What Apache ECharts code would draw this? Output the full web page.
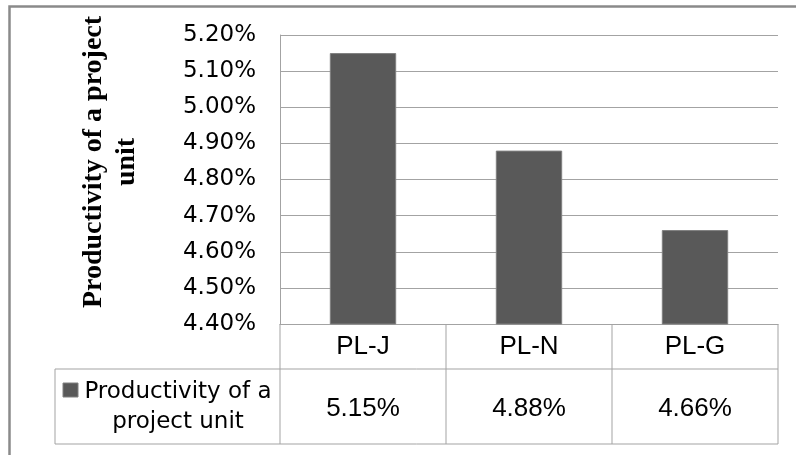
<!DOCTYPE html>
<html>
<head>
<meta charset="utf-8">
<script src="https://cdn.jsdelivr.net/npm/echarts@6/dist/echarts.min.js"></script>
<style>
  html, body { margin: 0; padding: 0; background: #ffffff; }
  #chart { width: 796px; height: 455px; }
</style>
</head>
<body>
<div id="chart"></div>
<script>
// Data
const categories = ['PL-J', 'PL-N', 'PL-G'];
const productivity = [5.15, 4.88, 4.66];
const seriesName = 'Productivity of a\nproject unit';
const axisTitle = 'Productivity of a project\nunit';
const yMin = 4.4;
const yMax = 5.2;
const yStep = 0.1;

// Layout and styling
const W = 796, H = 455;
const GRID = { left: 280, right: 18, top: 35, bottom: 131 };
const LINE = '#a3a3a3';
const BAR = '#595959';
const ROW1_H = 45;   // category row of the data table
const ROW2_H = 75;   // value row of the data table
const LEGEND_LEFT = 55;
const fmt = v => v.toFixed(2) + '%';

const chart = echarts.init(document.getElementById('chart'), null, { renderer: 'canvas' });

chart.setOption({
  animation: false,
  grid: { left: GRID.left, right: GRID.right, top: GRID.top, bottom: GRID.bottom },
  xAxis: {
    type: 'category',
    data: categories,
    axisLine: { lineStyle: { color: LINE, width: 1 } },
    axisTick: { show: false },
    axisLabel: { fontFamily: 'Liberation Sans', fontSize: 26, color: '#000', margin: 10 }
  },
  yAxis: {
    type: 'value',
    min: yMin,
    max: yMax,
    interval: yStep,
    axisLine: { show: true, lineStyle: { color: LINE, width: 1 } },
    axisTick: { show: false },
    axisLabel: { formatter: fmt, fontFamily: 'DejaVu Sans', fontSize: 23, color: '#000', margin: 24 },
    splitLine: { lineStyle: { color: LINE, width: 1 } }
  },
  series: [{
    type: 'bar',
    name: seriesName,
    data: productivity,
    barWidth: '40%',
    itemStyle: { color: BAR, borderColor: '#808080', borderWidth: 1 }
  }]
});

// Data table under the plot, aligned to the category bands
const xLeft = GRID.left;
const xRight = W - GRID.right;
const band = (xRight - xLeft) / categories.length;
const yBase = chart.convertToPixel({ yAxisIndex: 0 }, yMin);
const row1Bottom = yBase + ROW1_H;
const row2Bottom = row1Bottom + ROW2_H;

const g = [];
const hline = (x1, x2, y) => g.push({ type: 'line', shape: { x1, y1: y, x2, y2: y }, style: { stroke: LINE, lineWidth: 1 } });
const vline = (x, y1, y2) => g.push({ type: 'line', shape: { x1: x, y1, x2: x, y2 }, style: { stroke: LINE, lineWidth: 1 } });

hline(LEGEND_LEFT, xRight, row1Bottom);
hline(LEGEND_LEFT, xRight, row2Bottom);
vline(LEGEND_LEFT, row1Bottom, row2Bottom);
vline(xLeft, yBase, row2Bottom);
for (let i = 1; i <= categories.length; i++) {
  vline(xLeft + band * i, yBase, row2Bottom);
}

categories.forEach((c, i) => {
  const cx = chart.convertToPixel({ xAxisIndex: 0 }, c);
  g.push({
    type: 'text', x: cx, y: (row1Bottom + row2Bottom) / 2 + 2,
    style: { text: fmt(productivity[i]), font: '26px "Liberation Sans"', fill: '#000', align: 'center', verticalAlign: 'middle' }
  });
});

// Legend key and series name in the table's first column
g.push({ type: 'rect', shape: { x: 63, y: 383, width: 15, height: 14 }, style: { fill: BAR, stroke: '#808080', lineWidth: 1 } });
g.push({
  type: 'text', x: 178, y: (row1Bottom + row2Bottom) / 2 + 1,
  style: { text: seriesName, font: '23px "DejaVu Sans"', fill: '#000', align: 'center', verticalAlign: 'middle', lineHeight: 30 }
});

// Vertical axis title
g.push({
  type: 'text', x: 110, y: 162, rotation: Math.PI / 2,
  style: { text: axisTitle, font: 'bold 28px "Liberation Serif"', fill: '#000', align: 'center', verticalAlign: 'middle', lineHeight: 33 }
});

// Chart frame
g.push({ type: 'rect', shape: { x: 9.5, y: 6.5, width: 900, height: 900 }, style: { fill: 'none', stroke: '#8a8a8a', lineWidth: 2.5 } });

chart.setOption({ graphic: g });
</script>
</body>
</html>
